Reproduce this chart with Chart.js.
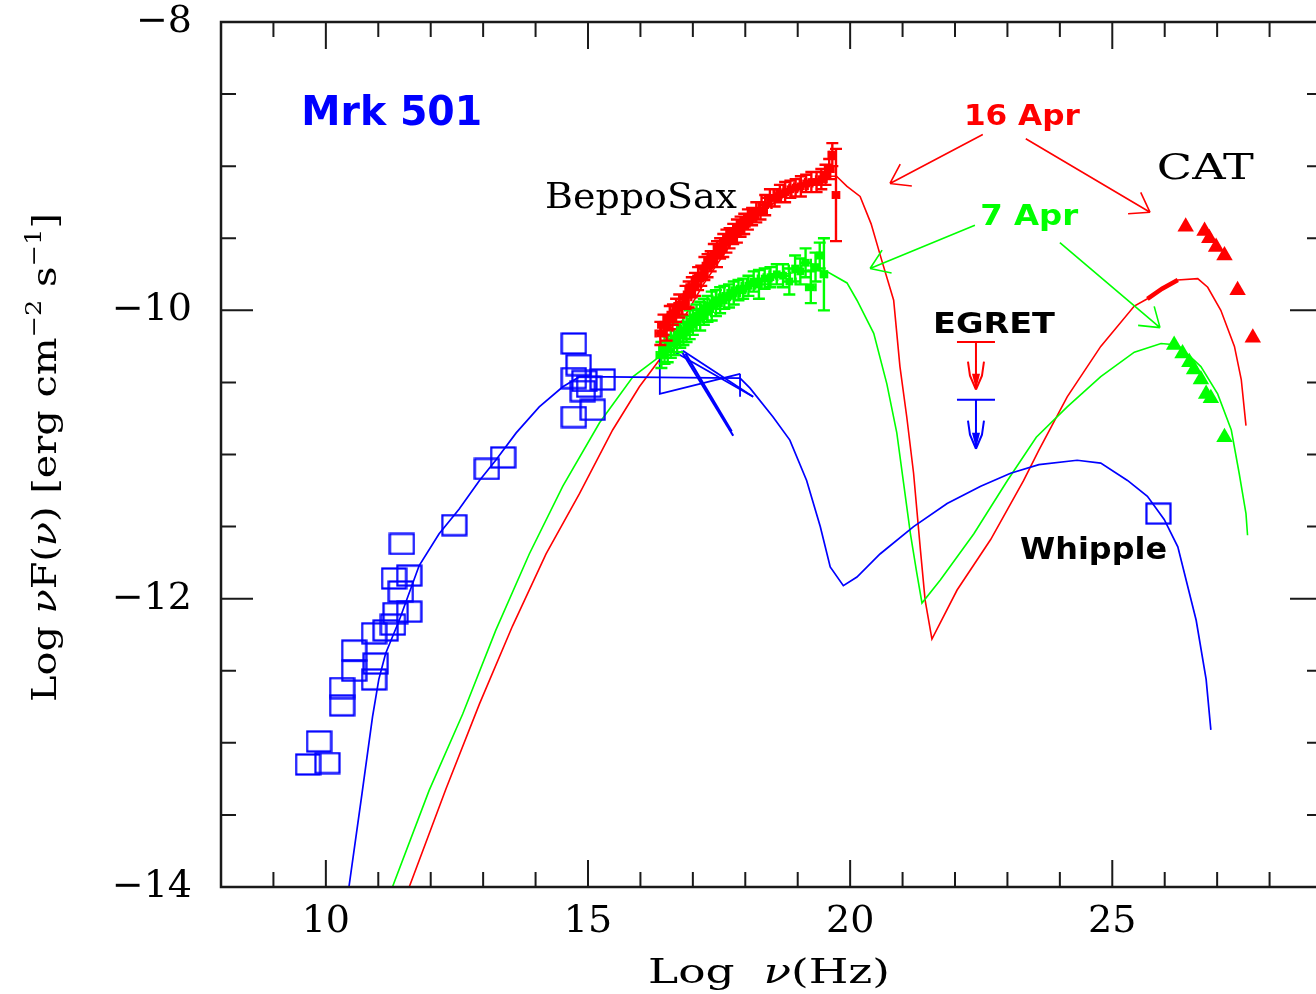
<!DOCTYPE html>
<html>
<head>
<meta charset="utf-8">
<title>Mrk 501 SED</title>
<script src="https://cdn.jsdelivr.net/npm/chart.js@4/dist/chart.umd.min.js"></script>
<style>
  html, body { margin: 0; padding: 0; background: #fff; overflow: hidden; }
  #wrap { position: absolute; left: 0; top: 0; width: 1340px; height: 994px; }
</style>
</head>
<body>
<div id="wrap"><canvas id="sed" width="1340" height="994"></canvas></div>
<script>
// axis ranges and labelled ticks
const xRange = [8, 29];
const yRange = [-14, -8];
const xLabelTicks = [10, 15, 20, 25];
const yLabelTicks = [-14, -12, -10, -8];

// archival radio .. optical points (blue squares)
const archX = [9.66, 9.87, 10.03, 10.31, 10.31, 10.54, 10.54, 10.92, 10.95, 10.92, 11.14, 11.28, 11.33, 11.59, 11.43, 11.30, 11.59, 11.45, 12.45, 13.07, 13.38, 14.73, 14.82, 14.73, 15.28, 14.93, 15.02, 14.90, 15.09, 14.73];
const archY = [-13.15, -12.99, -13.14, -12.62, -12.74, -12.36, -12.50, -12.24, -12.45, -12.56, -12.22, -12.18, -12.10, -12.09, -11.95, -11.86, -11.84, -11.62, -11.49, -11.10, -11.02, -10.23, -10.38, -10.47, -10.48, -10.49, -10.53, -10.56, -10.69, -10.74];

// Whipple point
const whipX = [25.88];
const whipY = [-11.41];

// BeppoSAX 16 Apr
const sax16X = [16.38, 16.44, 16.50, 16.56, 16.62, 16.68, 16.74, 16.80, 16.86, 16.92, 16.98, 17.04, 17.10, 17.16, 17.22, 17.28, 17.34, 17.40, 17.46, 17.52, 17.58, 17.64, 17.70, 17.77, 17.84, 17.91, 17.98, 18.05, 18.13, 18.21, 18.29, 18.38, 18.47, 18.56, 18.66, 18.76, 18.86, 18.96, 19.06, 19.16, 19.26, 19.36, 19.45, 19.53, 19.60, 19.66, 19.73];
const sax16Y = [-10.16, -10.10, -10.12, -10.05, -10.03, -10.00, -9.97, -9.96, -9.91, -9.89, -9.84, -9.82, -9.78, -9.76, -9.71, -9.69, -9.66, -9.62, -9.61, -9.57, -9.55, -9.52, -9.50, -9.47, -9.45, -9.42, -9.40, -9.37, -9.35, -9.32, -9.31, -9.27, -9.22, -9.22, -9.19, -9.18, -9.16, -9.15, -9.14, -9.12, -9.11, -9.11, -9.09, -9.06, -9.02, -8.92, -9.20];
const sax16Dy = [0.08, 0.07, 0.09, 0.08, 0.07, 0.08, 0.08, 0.07, 0.08, 0.09, 0.07, 0.08, 0.08, 0.07, 0.08, 0.08, 0.07, 0.08, 0.09, 0.07, 0.08, 0.08, 0.07, 0.07, 0.08, 0.07, 0.07, 0.07, 0.06, 0.07, 0.06, 0.07, 0.06, 0.06, 0.06, 0.07, 0.06, 0.06, 0.07, 0.06, 0.07, 0.07, 0.07, 0.07, 0.07, 0.08, 0.32];
const sax16Dx = [0.09, 0.10, 0.11, 0.09, 0.10, 0.11, 0.09, 0.10, 0.11, 0.09, 0.10, 0.11, 0.09, 0.10, 0.11, 0.09, 0.10, 0.11, 0.09, 0.10, 0.11, 0.09, 0.10, 0.10, 0.11, 0.10, 0.10, 0.11, 0.11, 0.12, 0.12, 0.12, 0.16, 0.12, 0.12, 0.12, 0.13, 0.12, 0.13, 0.12, 0.12, 0.11, 0.10, 0.09, 0.08, 0.07, 0.06];

// BeppoSAX 7 Apr
const sax7X = [16.40, 16.46, 16.52, 16.58, 16.64, 16.70, 16.76, 16.82, 16.88, 16.94, 17.00, 17.07, 17.14, 17.21, 17.28, 17.36, 17.44, 17.52, 17.60, 17.69, 17.78, 17.87, 17.96, 18.06, 18.16, 18.26, 18.37, 18.48, 18.60, 18.72, 18.84, 18.95, 19.05, 19.15, 19.25, 19.34, 19.42, 19.50];
const sax7Y = [-10.31, -10.27, -10.27, -10.23, -10.22, -10.19, -10.17, -10.14, -10.13, -10.10, -10.08, -10.05, -10.04, -10.01, -9.99, -9.97, -9.95, -9.93, -9.91, -9.90, -9.88, -9.86, -9.85, -9.83, -9.80, -9.82, -9.78, -9.77, -9.75, -9.76, -9.80, -9.71, -9.73, -9.67, -9.84, -9.70, -9.62, -9.75];
const sax7Dy = [0.09, 0.10, 0.09, 0.10, 0.09, 0.10, 0.09, 0.10, 0.09, 0.10, 0.09, 0.09, 0.10, 0.09, 0.09, 0.10, 0.09, 0.09, 0.08, 0.08, 0.08, 0.07, 0.07, 0.07, 0.07, 0.10, 0.07, 0.07, 0.07, 0.08, 0.09, 0.09, 0.09, 0.10, 0.11, 0.10, 0.09, 0.25];
const sax7Dx = [0.09, 0.10, 0.11, 0.09, 0.10, 0.11, 0.09, 0.10, 0.11, 0.09, 0.10, 0.11, 0.10, 0.11, 0.10, 0.11, 0.11, 0.12, 0.11, 0.12, 0.12, 0.13, 0.12, 0.13, 0.13, 0.18, 0.13, 0.13, 0.14, 0.13, 0.12, 0.12, 0.10, 0.10, 0.09, 0.08, 0.07, 0.06];

// EGRET upper limits: limit level and arrow tip
const egretX = [22.40, 22.40];
const egretLimit = [-10.22, -10.62];
const egretTip = [-10.55, -10.96];

// CAT spectra
const catRedX = [26.40, 26.76, 26.85, 26.98, 27.14, 27.39, 27.68];
const catRedY = [-9.42, -9.45, -9.50, -9.56, -9.62, -9.86, -10.19];
const catGreenX = [26.18, 26.34, 26.47, 26.56, 26.69, 26.79, 26.88, 27.14];
const catGreenY = [-10.24, -10.30, -10.36, -10.41, -10.48, -10.58, -10.61, -10.88];

// TeV band on the 16 Apr model
const tev16 = [[25.67, -9.92], [25.95, -9.85], [26.25, -9.79]];

// X-ray butterflies of the low state
const butterflyA = [[17.90, -10.44], [16.37, -10.58], [16.37, -10.23], [18.15, -10.60]];
const butterflyB = [[17.90, -10.44], [17.90, -10.60]];
const butterflyC = [[16.81, -10.28], [18.15, -10.60]];
const steepA = [[16.78, -10.28], [17.77, -10.87]];
const steepB = [[16.86, -10.30], [17.74, -10.84]];

// SSC model curves
const modelLow = [[10.44, -14.0], [10.69, -13.35], [10.89, -12.82], [11.01, -12.56], [11.14, -12.38], [11.40, -12.15], [11.78, -11.77], [12.16, -11.55], [12.54, -11.38], [12.93, -11.18], [13.24, -11.04], [13.63, -10.85], [14.07, -10.67], [14.52, -10.53], [14.84, -10.46], [17.90, -10.47], [18.09, -10.54], [18.53, -10.74], [18.85, -10.90], [19.17, -11.18], [19.43, -11.50], [19.62, -11.78], [19.87, -11.91], [20.13, -11.85], [20.57, -11.69], [21.21, -11.50], [21.85, -11.34], [22.49, -11.22], [23.06, -11.13], [23.60, -11.07], [24.33, -11.04], [24.78, -11.06], [25.29, -11.18], [25.67, -11.29], [25.99, -11.45], [26.25, -11.64], [26.60, -12.15], [26.79, -12.56], [26.88, -12.91]];
const model16Apr = [[11.59, -14.0], [12.29, -13.32], [12.93, -12.73], [13.56, -12.19], [14.20, -11.69], [14.84, -11.27], [15.47, -10.83], [15.98, -10.53], [16.37, -10.34], [16.69, -10.14], [17.20, -9.82], [17.80, -9.50], [18.40, -9.29], [19.00, -9.15], [19.50, -9.07], [19.74, -9.07], [19.94, -9.14], [20.19, -9.21], [20.40, -9.40], [20.60, -9.65], [20.83, -9.93], [20.95, -10.39], [21.08, -10.74], [21.21, -11.13], [21.34, -11.66], [21.43, -12.01], [21.56, -12.28], [22.04, -11.94], [22.68, -11.59], [23.31, -11.18], [23.60, -10.97], [24.14, -10.60], [24.78, -10.25], [25.42, -9.97], [25.67, -9.92], [26.25, -9.79], [26.63, -9.78], [26.82, -9.84], [27.07, -10.00], [27.33, -10.25], [27.46, -10.48], [27.55, -10.80]];
const model7Apr = [[11.27, -14.0], [11.97, -13.33], [12.61, -12.80], [13.24, -12.22], [13.88, -11.69], [14.52, -11.22], [15.22, -10.78], [15.86, -10.46], [16.37, -10.32], [16.80, -10.18], [17.40, -9.98], [18.00, -9.85], [18.60, -9.76], [19.20, -9.72], [19.55, -9.73], [19.94, -9.81], [20.13, -9.93], [20.45, -10.16], [20.70, -10.51], [20.89, -10.85], [21.02, -11.20], [21.15, -11.55], [21.27, -11.82], [21.37, -12.03], [21.72, -11.87], [22.36, -11.55], [23.00, -11.18], [23.55, -10.88], [24.14, -10.67], [24.78, -10.46], [25.42, -10.29], [25.93, -10.23], [26.25, -10.24], [26.69, -10.39], [27.01, -10.58], [27.27, -10.83], [27.42, -11.13], [27.55, -11.41], [27.58, -11.56]];

const BLUE = '#0000ff', RED = '#ff0000', GREEN = '#00ff00';

// text annotations, anchored at left end of the baseline
const notes = [
  { text: 'Mrk 501', x: 9.53, y: -8.714, font: 'bold 41px "DejaVu Sans"', color: BLUE, width: 181 },
  { text: 'BeppoSax', x: 14.18, y: -9.29, font: '36px "DejaVu Serif"', color: '#000', width: 192 },
  { text: '16 Apr', x: 22.17, y: -8.714, font: 'bold 29px "DejaVu Sans"', color: RED, width: 116 },
  { text: '7 Apr', x: 22.48, y: -9.408, font: 'bold 29px "DejaVu Sans"', color: GREEN, width: 98 },
  { text: 'CAT', x: 25.85, y: -9.089, font: '35px "DejaVu Serif"', color: '#000', width: 97 },
  { text: 'EGRET', x: 21.58, y: -10.157, font: 'bold 28px "DejaVu Sans"', color: '#000', width: 122 },
  { text: 'Whipple', x: 23.24, y: -11.725, font: 'bold 30px "DejaVu Sans"', color: '#000', width: 147 }
];

const pointers = [
  { from: [22.53, -8.78], to: [20.76, -9.12], color: RED },
  { from: [23.35, -8.81], to: [25.72, -9.32], color: RED },
  { from: [22.38, -9.41], to: [20.38, -9.71], color: GREEN },
  { from: [24.00, -9.53], to: [25.91, -10.12], color: GREEN }
];

function pts(xs, ys) { return xs.map((x, i) => ({ x: x, y: ys[i] })); }
function pairs(list) { return list.map(p => ({ x: p[0], y: p[1] })); }

function curve(list, color, width) {
  return { data: pairs(list), showLine: true, borderColor: color, borderWidth: width, pointRadius: 0, fill: false };
}

// open box marker, a little wider than tall
const box = document.createElement('canvas');
box.width = 27; box.height = 23;
(function () {
  const g = box.getContext('2d');
  g.strokeStyle = BLUE; g.lineWidth = 2.2;
  g.strokeRect(1.5, 1.5, 24, 20);
})();

const errorBars = {
  id: 'errorBars',
  beforeDatasetDraw(chart, args) {
    const ds = chart.data.datasets[args.index];
    if (!ds.errY) return;
    const { ctx, scales: { x, y } } = chart;
    ctx.save();
    ctx.strokeStyle = ds.borderColor;
    ctx.lineWidth = 2.4;
    ctx.beginPath();
    ds.data.forEach((p, i) => {
      const px = x.getPixelForValue(p.x), py = y.getPixelForValue(p.y);
      const yt = y.getPixelForValue(p.y + ds.errY[i]), yb = y.getPixelForValue(p.y - ds.errY[i]);
      const xl = x.getPixelForValue(p.x - ds.errX[i]), xr = x.getPixelForValue(p.x + ds.errX[i]);
      ctx.moveTo(px, yt); ctx.lineTo(px, yb);
      ctx.moveTo(px - 6, yt); ctx.lineTo(px + 6, yt);
      ctx.moveTo(px - 6, yb); ctx.lineTo(px + 6, yb);
      ctx.moveTo(xl, py); ctx.lineTo(xr, py);
      ctx.moveTo(xl, py - 4); ctx.lineTo(xl, py + 4);
      ctx.moveTo(xr, py - 4); ctx.lineTo(xr, py + 4);
    });
    ctx.stroke();
    ctx.restore();
  }
};

const upperLimits = {
  id: 'upperLimits',
  afterDatasetDraw(chart, args) {
    const ds = chart.data.datasets[args.index];
    if (!ds.tips) return;
    const { ctx, scales: { x, y } } = chart;
    ctx.save();
    ds.data.forEach((p, i) => {
      const c = ds.colors[i];
      const px = x.getPixelForValue(p.x), py = y.getPixelForValue(p.y);
      const ty = y.getPixelForValue(ds.tips[i]);
      ctx.strokeStyle = c; ctx.fillStyle = c; ctx.lineWidth = 2;
      ctx.beginPath();
      ctx.moveTo(px - 19, py); ctx.lineTo(px + 19, py);
      ctx.moveTo(px, py); ctx.lineTo(px, ty);
      ctx.moveTo(px - 8, ty - 28); ctx.lineTo(px - 6, ty - 14); ctx.lineTo(px, ty);
      ctx.moveTo(px + 8, ty - 28); ctx.lineTo(px + 6, ty - 14); ctx.lineTo(px, ty);
      ctx.stroke();
      ctx.beginPath();
      ctx.moveTo(px - 4, ty - 16); ctx.lineTo(px + 4, ty - 16); ctx.lineTo(px, ty);
      ctx.closePath(); ctx.fill();
    });
    ctx.restore();
  }
};

// draws text squeezed or stretched to a given width
function fitText(ctx, parts, width) {
  let total = 0;
  parts.forEach(p => { ctx.font = p.font; p.w = ctx.measureText(p.t).width; total += p.w; });
  const k = width / total;
  ctx.scale(k, 1);
  let cx = 0;
  parts.forEach(p => { ctx.font = p.font; ctx.fillText(p.t, cx, p.dy || 0); cx += p.w; });
}

const furniture = {
  id: 'furniture',
  afterDraw(chart) {
    const { ctx, chartArea: a, scales: { x, y } } = chart;
    ctx.save();

    // inward ticks on all four sides
    ctx.strokeStyle = '#1a1a1a';
    ctx.lineWidth = 2;
    ctx.beginPath();
    x.ticks.forEach(t => {
      const px = x.getPixelForValue(t.value);
      const len = t.value % 5 === 0 ? 27 : 15;
      ctx.moveTo(px, a.bottom); ctx.lineTo(px, a.bottom - len);
      ctx.moveTo(px, a.top); ctx.lineTo(px, a.top + len);
    });
    y.ticks.forEach(t => {
      const py = y.getPixelForValue(t.value);
      const len = t.value % 2 === 0 ? 32 : 15;
      ctx.moveTo(a.left, py); ctx.lineTo(a.left + len, py);
      ctx.moveTo(a.right, py); ctx.lineTo(a.right - len, py);
    });
    ctx.stroke();
    ctx.lineWidth = 2.5;
    ctx.strokeRect(a.left, a.top, a.right - a.left, a.bottom - a.top);

    // pointer arrows from the date labels
    pointers.forEach(p => {
      const x1 = x.getPixelForValue(p.from[0]), y1 = y.getPixelForValue(p.from[1]);
      const x2 = x.getPixelForValue(p.to[0]), y2 = y.getPixelForValue(p.to[1]);
      const ang = Math.atan2(y2 - y1, x2 - x1);
      ctx.strokeStyle = p.color; ctx.lineWidth = 1.6;
      ctx.beginPath();
      ctx.moveTo(x1, y1); ctx.lineTo(x2, y2);
      [0.6, -0.6].forEach(d => {
        ctx.moveTo(x2, y2);
        ctx.lineTo(x2 - 22 * Math.cos(ang + d), y2 - 22 * Math.sin(ang + d));
      });
      ctx.stroke();
    });

    // annotations
    ctx.textAlign = 'left';
    ctx.textBaseline = 'alphabetic';
    notes.forEach(n => {
      ctx.save();
      ctx.fillStyle = n.color;
      ctx.translate(x.getPixelForValue(n.x), y.getPixelForValue(n.y));
      fitText(ctx, [{ t: n.text, font: n.font }], n.width);
      ctx.restore();
    });

    // axis titles
    const serif = '34px "DejaVu Serif"', ital = 'italic 34px "DejaVu Serif"', sup = '22px "DejaVu Serif"';
    ctx.fillStyle = '#000';
    ctx.save();
    ctx.translate(648, 983);
    fitText(ctx, [{ t: 'Log  ', font: serif }, { t: 'ν', font: ital }, { t: '(Hz)', font: serif }], 242);
    ctx.restore();

    ctx.save();
    ctx.translate(56, 702);
    ctx.rotate(-Math.PI / 2);
    fitText(ctx, [
      { t: 'Log ', font: serif }, { t: 'ν', font: ital }, { t: 'F(', font: serif }, { t: 'ν', font: ital },
      { t: ') [erg cm', font: serif }, { t: '\u22122', font: sup, dy: -15 }, { t: ' s', font: serif },
      { t: '\u22121', font: sup, dy: -15 }, { t: ']', font: serif }
    ], 489);
    ctx.restore();

    ctx.restore();
  }
};

const datasets = [
  { data: pts(catRedX, catRedY), pointStyle: 'triangle', pointRadius: 9.5, backgroundColor: RED, borderColor: RED, borderWidth: 0 },
  { data: pts(catGreenX, catGreenY), pointStyle: 'triangle', pointRadius: 9.5, backgroundColor: GREEN, borderColor: GREEN, borderWidth: 0 },
  { data: pts(egretX, egretLimit), pointRadius: 0, tips: egretTip, colors: [RED, BLUE] },
  { data: pts(whipX, whipY), pointStyle: box, pointRadius: 11 },
  { data: pts(archX, archY), pointStyle: box, pointRadius: 11 },
  { data: pts(sax16X, sax16Y), errY: sax16Dy, errX: sax16Dx, pointStyle: 'rect', pointRadius: 5.5, backgroundColor: RED, borderColor: RED, borderWidth: 0 },
  { data: pts(sax7X, sax7Y), errY: sax7Dy, errX: sax7Dx, pointStyle: 'rect', pointRadius: 5.5, backgroundColor: GREEN, borderColor: GREEN, borderWidth: 0 },
  curve(tev16, RED, 4.5),
  curve(butterflyA, BLUE, 1.8),
  curve(butterflyB, BLUE, 1.8),
  curve(butterflyC, BLUE, 1.8),
  curve(steepA, BLUE, 2.2),
  curve(steepB, BLUE, 2.2),
  curve(modelLow, BLUE, 1.7),
  curve(model7Apr, GREEN, 1.6),
  curve(model16Apr, RED, 1.6)
];

const tickFont = { family: 'DejaVu Serif', size: 38 };

new Chart(document.getElementById('sed'), {
  type: 'scatter',
  data: { datasets: datasets },
  options: {
    responsive: false,
    animation: false,
    devicePixelRatio: 1,
    events: [],
    layout: { padding: { top: 22, right: 18, left: 0, bottom: 0 } },
    plugins: { legend: { display: false }, tooltip: { enabled: false } },
    scales: {
      x: {
        type: 'linear', min: xRange[0], max: xRange[1],
        grid: { display: false, drawTicks: false },
        border: { display: false },
        ticks: {
          stepSize: 1, autoSkip: false, maxRotation: 0, padding: 12, color: '#000', font: tickFont,
          callback: v => xLabelTicks.includes(v) ? String(v) : ''
        },
        afterFit: s => { s.height = 107; s.paddingLeft = 0; s.paddingRight = 0; }
      },
      y: {
        type: 'linear', min: yRange[0], max: yRange[1],
        grid: { display: false, drawTicks: false },
        border: { display: false },
        ticks: {
          stepSize: 0.5, autoSkip: false, padding: 29, color: '#000', font: tickFont,
          callback: v => yLabelTicks.includes(v) ? '\u2212' + Math.abs(v) : ''
        },
        afterFit: s => { s.width = 221; s.paddingTop = 0; s.paddingBottom = 0; }
      }
    }
  },
  plugins: [errorBars, upperLimits, furniture]
});
</script>
</body>
</html>
